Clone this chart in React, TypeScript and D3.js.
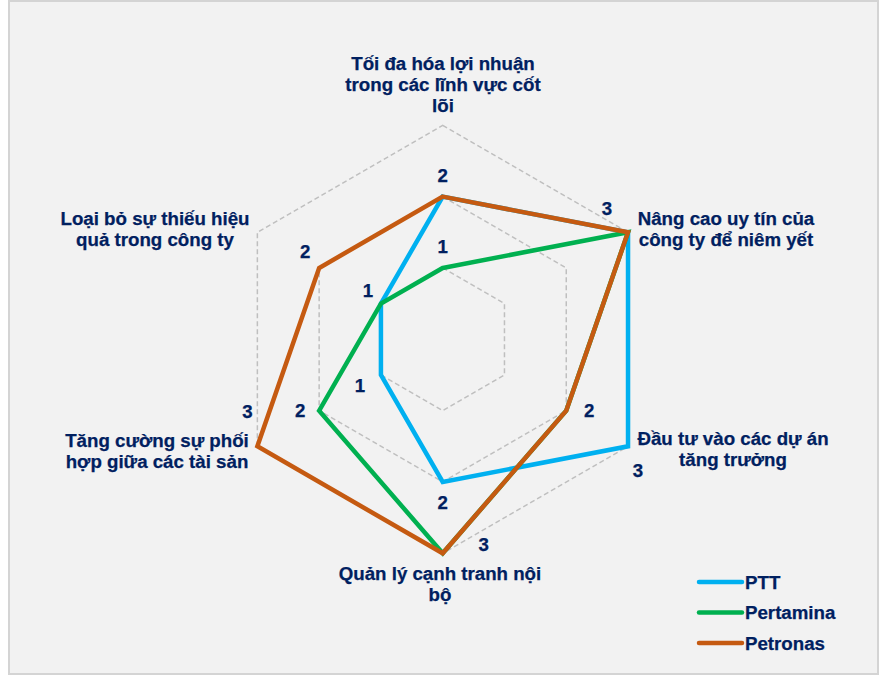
import React from "react";
import * as d3 from "d3";

// ---- data ----
const categories = [
  "Tối đa hóa lợi nhuận trong các lĩnh vực cốt lõi",
  "Nâng cao uy tín của công ty để niêm yết",
  "Đầu tư vào các dự án tăng trưởng",
  "Quản lý cạnh tranh nội bộ",
  "Tăng cường sự phối hợp giữa các tài sản",
  "Loại bỏ sự thiếu hiệu quả trong công ty",
];
const categoryLines = [
  ["Tối đa hóa lợi nhuận", "trong các lĩnh vực cốt", "lõi"],
  ["Nâng cao uy tín của", "công ty để niêm yết"],
  ["Đầu tư vào các dự án", "tăng trưởng"],
  ["Quản lý cạnh tranh nội", "bộ"],
  ["Tăng cường sự phối", "hợp giữa các tài sản"],
  ["Loại bỏ sự thiếu hiệu", "quả trong công ty"],
];
const seriesNames = ["PTT", "Pertamina", "Petronas"];
const pttValues = [2, 3, 3, 2, 1, 1];
const pertaminaValues = [1, 3, 2, 3, 2, 1];
const petronasValues = [2, 3, 2, 3, 3, 2];
const gridLevels = [1, 2, 3];

// ---- styling / layout ----
const W = 887;
const H = 691;
const cx = 442.7;
const cy = 339.3;
const R = 214;
const colors = ["#00b0f0", "#00b050", "#c55a11"];
const textColor = "#002060";
const FONT = "'Liberation Sans', Arial, sans-serif";
const FS = 18.7;
const LH = 21;

// label anchors (center x, first baseline) per axis
const catLayout = [
  { x: 443, y: 70 },
  { x: 726, y: 225 },
  { x: 733, y: 445 },
  { x: 440, y: 580 },
  { x: 157, y: 447 },
  { x: 155, y: 225 },
];
// data label offsets per series per axis [dx, dy] (center of text)
const labelOffsets = [
  [[0, -21], [-21, -24], [10, 24], [0, 20], [-21, 10], [-13, -13]],
  [[0, -22], [-21, -24], [23, 0], [41, -9], [-19, 0], [-13, -13]],
  [[0, -21], [-21, -24], [23, 0], [41, -9], [-10, -35], [-14, -17]],
];

export default function App() {
  const r = d3.scaleLinear().domain([0, 3]).range([0, R]);
  const angle = d3
    .scaleLinear()
    .domain([0, categories.length])
    .range([0, 2 * Math.PI]);
  const pt = (i: number, v: number): [number, number] => [
    cx + r(v) * Math.sin(angle(i)),
    cy - r(v) * Math.cos(angle(i)),
  ];
  const series = [pttValues, pertaminaValues, petronasValues];
  const lineGen = d3
    .line<[number, number]>()
    .x((d) => d[0])
    .y((d) => d[1])
    .curve(d3.curveLinearClosed);

  const seen = new Set<string>();
  const dataLabels: { x: number; y: number; t: string; k: string }[] = [];
  series.forEach((vals, s) => {
    vals.forEach((v, i) => {
      const key = `${i}-${v}`;
      if (seen.has(key)) return;
      seen.add(key);
      const [x, y] = pt(i, v);
      const [dx, dy] = labelOffsets[s][i];
      dataLabels.push({ x: x + dx, y: y + dy, t: String(v), k: key });
    });
  });

  const textStyle = { stroke: textColor, strokeWidth: 0.25 };

  return (
    <svg
      width={W}
      height={H}
      style={{ position: "absolute", left: 0, top: 0, background: "#fff" }}
      fontFamily={FONT}
    >
      <rect x={9} y={1} width={869} height={673} fill="#f2f2f2" stroke="#d4d4d4" strokeWidth={2} />
      {gridLevels.map((lv) => (
        <path
          key={lv}
          d={lineGen(categories.map((_, i) => pt(i, lv))) || ""}
          fill="none"
          stroke="#bfbfbf"
          strokeWidth={1.5}
          strokeDasharray="5 3"
        />
      ))}
      {series.map((vals, s) => (
        <path
          key={seriesNames[s]}
          d={lineGen(vals.map((v, i) => pt(i, v))) || ""}
          fill="none"
          stroke={colors[s]}
          strokeWidth={4.5}
          strokeLinejoin="miter"
        />
      ))}
      {dataLabels.map((d) => (
        <text
          key={d.k}
          x={d.x}
          y={d.y}
          dy="0.35em"
          textAnchor="middle"
          fontSize={FS}
          fontWeight="bold"
          fill={textColor}
          style={textStyle}
        >
          {d.t}
        </text>
      ))}
      {categoryLines.map((lines, i) => (
        <text
          key={categories[i]}
          x={catLayout[i].x}
          y={catLayout[i].y}
          textAnchor="middle"
          fontSize={FS}
          fontWeight="bold"
          fill={textColor}
          style={textStyle}
        >
          {lines.map((ln, j) => (
            <tspan key={j} x={catLayout[i].x} dy={j === 0 ? 0 : LH}>
              {ln}
            </tspan>
          ))}
        </text>
      ))}
      {seriesNames.map((n, s) => (
        <g key={n} transform={`translate(699, ${582 + s * 30.5})`}>
          <line x1={0} x2={43} y1={0} y2={0} stroke={colors[s]} strokeWidth={4.5} strokeLinecap="round" />
          <text x={46} y={0} dy="0.35em" fontSize={FS} fontWeight="bold" fill={textColor} style={textStyle}>
            {n}
          </text>
        </g>
      ))}
    </svg>
  );
}
